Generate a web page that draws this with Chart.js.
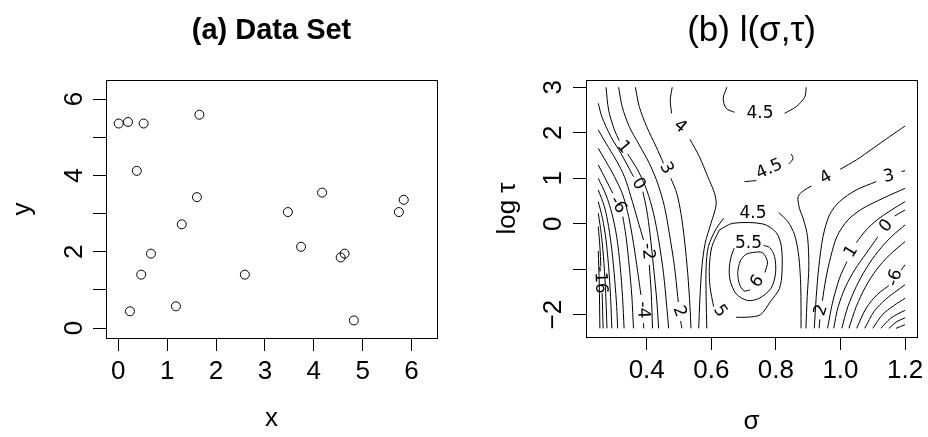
<!DOCTYPE html>
<html>
<head>
  <title>Data set and likelihood contours</title>
  <script src="https://cdn.jsdelivr.net/npm/chart.js"></script>
  <style>
    body { margin: 0; background: #fff; width: 928px; height: 437px; overflow: hidden; }
    .panel { position: absolute; top: 0; width: 464px; height: 437px; }
  </style>
</head>
<body>
  <div class="panel" style="left:0"><canvas id="left" width="464" height="437"></canvas></div>
  <div class="panel" style="left:464px"><canvas id="right" width="464" height="437"></canvas></div>

  <script>
    // (a) data set
    const pointsX = [0.01, 0.20, 0.52, 1.66, 0.38, 1.61, 3.47, 1.30, 0.67, 0.47, 2.59, 0.24, 1.18, 4.17, 3.74, 4.63, 4.55, 4.82, 5.84, 5.74];
    const pointsY = [5.36, 5.40, 5.36, 5.59, 4.12, 3.43, 3.04, 2.72, 1.95, 1.40, 1.40, 0.44, 0.57, 3.55, 2.13, 1.95, 1.85, 0.20, 3.36, 3.04];
    const leftXTicks = [0, 1, 2, 3, 4, 5, 6];
    const leftYTicks = [0, 1, 2, 3, 4, 5, 6];
    const leftYLabels = [0, 2, 4, 6];

    // (b) contour lines of l(sigma, tau): [sigma, log tau], null = gap for a label
    const lvl45top = [[.648,3.0],[.637,2.758],[.646,2.538],[.672,2.450],null,[.827,2.428],[.863,2.574],[.889,2.779],[.894,3.0]];
    const lvl45mid = [[.703,.926],[.739,.948],null,[.840,1.314],[.853,1.431],[.848,1.533]];
    const lvl45peak = [[.586,-2.30],[.584,-1.601],[.584,-.942],[.591,-.502],[.613,-.136],[.638,.120],null,[.809,.245],[.837,.047],[.858,-.246],[.871,-.722],[.877,-1.381],[.878,-2.30]];
    const lvl5 = [[.625,-.136],[.667,.010],[.760,-.005],[.801,-.195],[.817,-.502],[.819,-1.059],[.811,-1.425],[.782,-1.718],[.753,-1.996],[.712,-2.055],[.677,-2.055],null,[.607,-1.821],[.596,-1.381],[.594,-.942],[.602,-.502],[.625,-.136]];
    const lvl55 = [[.762,-.481],[.780,-.517],[.796,-.722],[.799,-1.088],[.785,-1.418],[.749,-1.637],[.713,-1.688],[.677,-1.542],[.658,-1.234],[.656,-.942],[.663,-.686],[.671,-.539]];
    const lvl6 = [[.766,-1.073],[.774,-.839],[.758,-.634],[.728,-.634],[.706,-.678],[.690,-.817],[.682,-1.073],[.687,-1.322],[.701,-1.476],[.720,-1.454]];

    const lvl4L = [[.479,3.0],[.473,2.721],[.477,2.428],null,[.534,1.856],[.563,1.475],[.589,1.036],[.610,.670],[.615,.413],[.599,.010],[.581,-.429],[.571,-.942],[.565,-1.601],[.561,-2.30]];
    const lvl3L = [[.365,3.0],[.377,2.574],[.400,2.135],[.429,1.695],[.452,1.329],null,[.475,.999],[.493,.670],[.506,.230],[.517,-.356],[.527,-1.088],[.534,-1.821],[.537,-2.30]];
    const lvl2L = [[.313,3.0],[.324,2.574],[.346,2.135],[.377,1.732],[.408,1.329],[.434,.889],[.455,.376],[.470,-.210],[.486,-.942],[.496,-1.601],[.498,-1.72],null,[.505,-2.14],[.509,-2.30]];
    const lvl1L = [[.274,3.0],[.282,2.501],[.300,2.062],[.315,1.827],null,[.341,1.534],[.372,1.182],[.400,.743],[.421,.230],[.437,-.356],[.452,-1.088],[.462,-1.821],[.468,-2.30]];
    const lvl0L = [[.250,2.648],[.261,2.355],[.289,1.915],[.320,1.548],[.359,1.036],null,[.388,.706],[.400,.303],[.410,-.210],[.421,-.942],[.431,-1.674],[.437,-2.30]];
    const lvlm2L = [[.250,2.062],[.274,1.768],[.305,1.402],[.331,1.036],[.351,.596],[.372,.083],[.390,-.356],null,[.408,-.905],[.414,-1.528],[.418,-2.30]];
    const lvlm4L = [[.250,1.658],[.274,1.365],[.300,1.036],[.326,.633],[.344,.157],[.359,-.429],[.372,-1.051],[.382,-1.564],null,[.390,-2.186],[.391,-2.30]];
    const lvlm6L = [[.250,1.292],[.274,.963],[.295,.670],null,[.326,.157],[.336,-.283],[.346,-.942],[.354,-1.601],[.359,-2.30]];
    const lvlm8L = [[.250,.999],[.274,.633],[.292,.230],[.307,-.283],[.318,-.942],[.325,-1.601],[.330,-2.30]];
    const lvlm10L = [[.250,.743],[.269,.376],[.282,-.063],[.292,-.575],[.301,-1.234],[.307,-1.821],[.310,-2.30]];
    const lvlm12L = [[.250,.486],[.263,.120],[.274,-.356],[.282,-.942],[.288,-1.601],[.292,-2.30]];
    const lvlm14L = [[.250,.230],[.259,-.210],[.266,-.722],[.272,-1.381],[.277,-2.30]];
    const lvlm16L = [[.250,-.063],[.255,-.502],[.258,-.942],null,[.262,-1.528],[.265,-2.30]];
    const lvlm18L = [[.250,-.60],[.253,-1.30],[.255,-2.30]];

    const lvl4R = [[.893,-2.30],[.897,-1.601],[.902,-.942],[.898,-.283],[.886,.083],[.873,.340],[.869,.596],[.886,.728],[.910,.831],null,[.999,1.197],[1.049,1.402],[1.101,1.658],[1.152,1.915],[1.2,2.149]];
    const lvl3R = [[.919,-2.30],[.925,-1.601],[.933,-.942],[.946,-.283],[.966,.193],[.997,.486],[1.049,.743],[1.111,.926],null,[1.189,1.146],[1.2,1.168]];
    const lvl2R = [[.934,-2.30],[.936,-2.102],null,[.944,-1.692],[.954,-1.234],[.970,-.722],[.989,-.283],[1.023,.083],[1.070,.340],[1.132,.560],[1.2,.779]];
    const lvl1R = [[.960,-2.30],[.975,-1.748],[.997,-1.198],[1.020,-.832],null,[1.049,-.415],[1.080,-.136],[1.116,.098],[1.158,.303],[1.2,.486]];
    const lvl0R = [[.979,-2.30],[.993,-1.821],[1.016,-1.381],[1.044,-1.015],[1.080,-.648],[1.116,-.283],null,[1.168,.171],[1.2,.303]];
    const lvlm2R = [[1.004,-2.30],[1.023,-1.821],[1.049,-1.381],[1.080,-.978],[1.116,-.612],[1.158,-.283],[1.2,-.026]];
    const lvlm4R = [[1.026,-2.30],[1.049,-1.821],[1.078,-1.381],[1.111,-1.015],[1.152,-.686],[1.2,-.393]];
    const lvlm6R = [[1.050,-2.30],[1.080,-1.85],[1.115,-1.55],[1.150,-1.36],null,[1.188,-1.02],[1.2,-.90]];
    const lvlm8R = [[1.075,-2.30],[1.105,-1.92],[1.140,-1.66],[1.175,-1.47],[1.2,-1.34]];
    const lvlm10R = [[1.100,-2.30],[1.130,-2.00],[1.165,-1.80],[1.2,-1.64]];
    const lvlm12R = [[1.125,-2.30],[1.155,-2.08],[1.2,-1.90]];
    const lvlm14R = [[1.150,-2.30],[1.175,-2.15],[1.2,-2.07]];
    const lvlm16R = [[1.172,-2.30],[1.2,-2.22]];

    // contour labels: [text, sigma, log tau]
    const contourLabels = [
      ["4.5", .751, 2.428], ["4.5", .780, 1.197], ["4.5", .729, .215], ["5.5", .715, -.443], ["6", .743, -1.27],
      ["5", .627, -1.92], ["4", .503, 2.134], ["3", .460, 1.219], ["2", .501, -1.93], ["1", .328, 1.68],
      ["0", .374, .875], ["-2", .403, -.611], ["-4", .388, -1.894], ["-6", .310, .413], ["-16", .256, -1.234],
      ["4", .955, 1.014], ["3", 1.150, 1.036], ["2", .940, -1.90], ["1", 1.034, -.612], ["0", 1.142, -.05],
      ["-6", 1.169, -1.19]
    ];
    const contourLabelAngles = [0, -25, 0, 0, -55, 55, 40, 62, 70, 50, 58, 85, 88, 58, 88, -30, -12, -72, -58, -50, -72];

    const rightXTicks = [0.4, 0.6, 0.8, 1.0, 1.2];
    const rightYTicks = [-2, -1, 0, 1, 2, 3];
    const rightYLabels = [-2, 0, 1, 2, 3];

    const contourLines = [lvl45top, lvl45mid, lvl45peak, lvl5, lvl55, lvl6,
      lvl4L, lvl3L, lvl2L, lvl1L, lvl0L, lvlm2L, lvlm4L, lvlm6L, lvlm8L, lvlm10L, lvlm12L, lvlm14L, lvlm16L, lvlm18L,
      lvl4R, lvl3R, lvl2R, lvl1R, lvl0R, lvlm2R, lvlm4R, lvlm6R, lvlm8R, lvlm10R, lvlm12R, lvlm14R, lvlm16R];

    const FONT = 'Liberation Sans';
    const minus = v => (v < 0 ? '\u2212' + Math.abs(v) : String(v));

    const boxPlugin = {
      id: 'box',
      afterDraw(chart) {
        const { ctx, chartArea: a } = chart;
        ctx.save();
        ctx.strokeStyle = '#000';
        ctx.lineWidth = 1;
        ctx.strokeRect(Math.round(a.left) + 0.5, Math.round(a.top) + 0.5, Math.round(a.right - a.left), Math.round(a.bottom - a.top));
        ctx.restore();
      }
    };

    // R draws y tick labels parallel to the axis
    function yLabelPlugin(values, xPos) {
      return {
        id: 'ylabels',
        afterDraw(chart) {
          const ctx = chart.ctx, s = chart.scales.y;
          ctx.save();
          ctx.font = '26px "' + FONT + '"';
          ctx.fillStyle = '#000';
          ctx.textAlign = 'center';
          ctx.textBaseline = 'middle';
          values.forEach(v => {
            ctx.save();
            ctx.translate(xPos, s.getPixelForValue(v));
            ctx.rotate(-Math.PI / 2);
            ctx.fillText(minus(v), 0, 0);
            ctx.restore();
          });
          ctx.restore();
        }
      };
    }

    const contourLabelPlugin = {
      id: 'clabels',
      afterDatasetsDraw(chart) {
        const ctx = chart.ctx, sx = chart.scales.x, sy = chart.scales.y;
        ctx.save();
        ctx.font = '17px "DejaVu Sans"';
        ctx.fillStyle = '#000';
        ctx.textAlign = 'center';
        ctx.textBaseline = 'middle';
        contourLabels.forEach((l, i) => {
          ctx.save();
          ctx.translate(sx.getPixelForValue(l[1]), sy.getPixelForValue(l[2]));
          ctx.rotate(contourLabelAngles[i] * Math.PI / 180);
          ctx.fillText(l[0], 0, 0);
          ctx.restore();
        });
        ctx.restore();
      }
    };

    function axisX(min, max, ticks, fmt, title, height, titlePad) {
      return {
        type: 'linear', min: min, max: max,
        afterBuildTicks: s => { s.ticks = ticks.map(v => ({ value: v })); },
        ticks: { autoSkip: false, maxRotation: 0, color: '#000', padding: 5.4, font: { family: FONT, size: 26 }, callback: fmt },
        grid: { drawOnChartArea: false, tickLength: 13, tickColor: '#000', color: '#000' },
        border: { display: false },
        title: { display: true, text: title, color: '#000', font: { family: FONT, size: 26 }, padding: { top: 0, bottom: titlePad } },
        afterFit: s => { s.height = height; s.paddingLeft = 0; s.paddingRight = 0; }
      };
    }

    function axisY(min, max, ticks, title, width, titlePad) {
      return {
        type: 'linear', min: min, max: max,
        afterBuildTicks: s => { s.ticks = ticks.map(v => ({ value: v })); },
        ticks: { autoSkip: false, callback: () => '' },
        grid: { drawOnChartArea: false, tickLength: 13, tickColor: '#000', color: '#000' },
        border: { display: false },
        title: { display: true, text: title, color: '#000', font: { family: FONT, size: 26 }, padding: { top: titlePad, bottom: 0 } },
        afterFit: s => { s.width = width; s.paddingTop = 0; s.paddingBottom = 0; }
      };
    }

    function titleOpts(text, weight, size) {
      return {
        display: true, fullSize: false, text: text, color: '#000',
        font: { family: FONT, size: size, weight: weight, lineHeight: 1.2 },
        padding: { top: 31 - size * 0.6, bottom: 80 - 31 - size * 0.6 }
      };
    }

    new Chart(document.getElementById('left'), {
      type: 'scatter',
      data: {
        datasets: [{
          data: pointsX.map((x, i) => ({ x: x, y: pointsY[i] })),
          pointRadius: 4.5,
          borderColor: '#000',
          backgroundColor: 'rgba(0,0,0,0)',
          borderWidth: 1
        }]
      },
      options: {
        responsive: false, animation: false, events: [],
        layout: { padding: { left: 0, right: 27, top: 0, bottom: 0 } },
        plugins: { legend: { display: false }, tooltip: { enabled: false }, title: titleOpts('(a) Data Set', 'bold', 29) },
        scales: {
          x: axisX(-0.25, 6.52, leftXTicks, v => String(v), 'x', 99, 2.6),
          y: axisY(-0.26, 6.50, leftYTicks, 'y', 106, 7)
        }
      },
      plugins: [boxPlugin, yLabelPlugin(leftYLabels, 74.5)]
    });

    const contourSets = [];
    contourLines.forEach(line => {
      let seg = [];
      line.concat([null]).forEach(p => {
        if (p === null) {
          if (seg.length) contourSets.push({
            data: seg, showLine: true, pointRadius: 0, borderWidth: 1,
            borderColor: '#000', tension: 0.3, fill: false
          });
          seg = [];
        } else {
          seg.push({ x: p[0], y: p[1] });
        }
      });
    });

    new Chart(document.getElementById('right'), {
      type: 'scatter',
      data: { datasets: contourSets },
      options: {
        responsive: false, animation: false, events: [],
        layout: { padding: { left: 0, right: 11, top: 0, bottom: 0 } },
        plugins: { legend: { display: false }, tooltip: { enabled: false }, title: titleOpts('(b) l(\u03c3,\u03c4)', 'normal', 35) },
        scales: {
          x: axisX(0.212, 1.237, rightXTicks, v => v.toFixed(1), '\u03c3', 100, 0),
          y: axisY(-2.49, 3.16, rightYTicks, 'log \u03c4', 122, 28.6)
        }
      },
      plugins: [boxPlugin, contourLabelPlugin, yLabelPlugin(rightYLabels, 89.5)]
    });
  </script>
</body>
</html>
